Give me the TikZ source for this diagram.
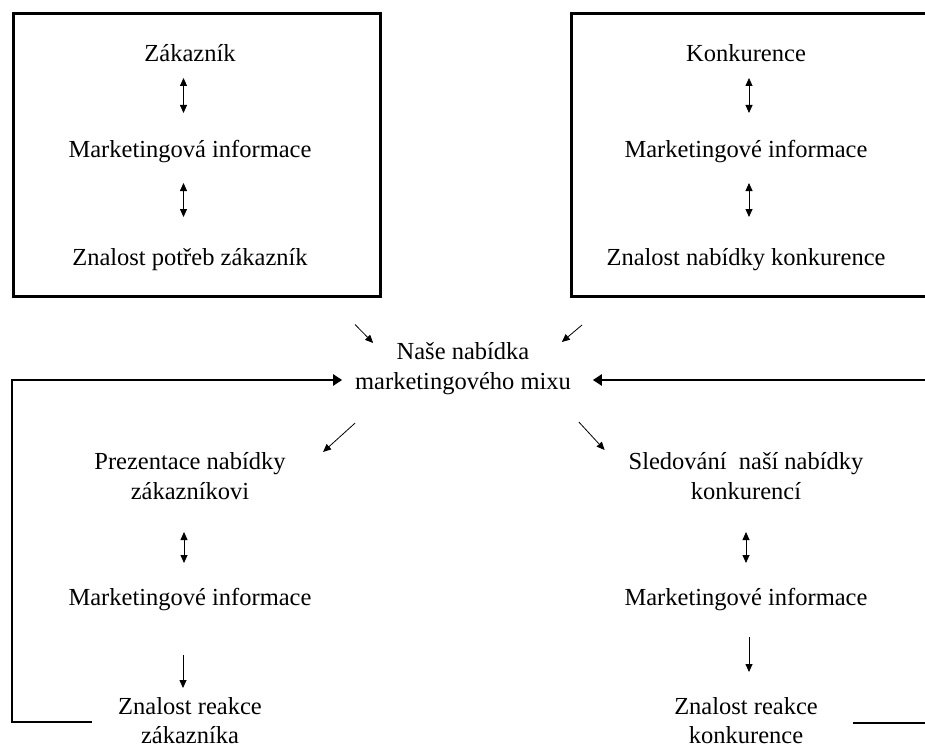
\documentclass[tikz,border=0pt]{standalone}
\usepackage{fontspec}
\setmainfont{Liberation Serif}
\usetikzlibrary{arrows.meta}
% centred block of lines whose baseline is that of the first line
\newcommand\lblstack[1]{\begin{tabular}[t]{@{}c@{}}#1\end{tabular}}
\begin{document}
\begin{tikzpicture}[x=1pt,y=-1pt,
  lbl/.style={inner sep=0pt, outer sep=0pt, anchor=base,
    font=\fontsize{24.5}{30}\selectfont},
  framebox/.style={inner sep=0pt, outer sep=0pt},
  frameline/.style={line width=3pt},
  dbl/.style={line width=0.8pt,
    {Triangle[length=8pt,width=7pt]}-{Triangle[length=8pt,width=7pt]}},
  one/.style={line width=0.8pt, -{Triangle[length=8pt,width=7pt]}},
  fb/.style={line width=1.3pt},
  fbarrow/.style={line width=2.6pt, -{Triangle[length=9pt,width=11pt]}}]
\useasboundingbox (0,0) rectangle (925,749);

% the two information boxes
\node[framebox, draw, frameline, minimum width=367pt, minimum height=283pt] (L) at (196.5,155) {};
\node[framebox, minimum width=355pt, minimum height=283pt] (R) at (748.5,155) {};
\draw[frameline] (R.north east) -- (R.north west) -- (R.south west) -- (R.south east);

% customer side
\node[lbl] (zak) at (190,62)  {\lblstack{Zákazník}};
\node[lbl] (mi1) at (190,157) {\lblstack{Marketingová informace}};
\node[lbl] (zn1) at (190,265) {\lblstack{Znalost potřeb zákazník}};

% competition side
\node[lbl] (kon) at (746,62)  {\lblstack{Konkurence}};
\node[lbl] (mi2) at (746,157) {\lblstack{Marketingové informace}};
\node[lbl] (zn2) at (746,265) {\lblstack{Znalost nabídky konkurence}};

% our offer
\node[lbl] (nase) at (463,359) {\lblstack{Naše nabídka\\marketingového mixu}};

% reaction of the customer
\node[lbl] (pre) at (190,469) {\lblstack{Prezentace nabídky\\zákazníkovi}};
\node[lbl] (mi3) at (190,605) {\lblstack{Marketingové informace}};
\node[lbl] (zr1) at (190,714) {\lblstack{Znalost reakce\\[-1pt]zákazníka}};

% reaction of the competition
\node[lbl] (sle) at (746,469) {\lblstack{Sledování~ naší nabídky\\konkurencí}};
\node[lbl] (mi4) at (746,605) {\lblstack{Marketingové informace}};
\node[lbl] (zr2) at (746,714) {\lblstack{Znalost reakce\\[-1pt]konkurence}};

% arrows inside the boxes
\draw[dbl, shorten <=7pt, shorten >=23pt] ([xshift=-6.5pt]zak.south) -- ([xshift=-6.5pt]mi1.north);
\draw[dbl, shorten <=17pt, shorten >=27pt] ([xshift=-6.5pt]mi1.south) -- ([xshift=-6.5pt]zn1.north);
\draw[dbl, shorten <=7pt, shorten >=23pt] ([xshift=3pt]kon.south) -- ([xshift=3pt]mi2.north);
\draw[dbl, shorten <=17pt, shorten >=27pt] ([xshift=3pt]mi2.south) -- ([xshift=3pt]zn2.north);

% from the boxes to our offer
\draw[one] ([shift={(-25,28)}]L.south east) -- ([shift={(18,5)}]nase.north west);
\draw[one] ([shift={(11,28.5)}]R.south west) -- ([shift={(-9,4)}]nase.north east);

% from our offer downwards
\draw[one] ([shift={(0,25)}]nase.south west) -- ([shift={(37.5,4)}]pre.north east);
\draw[one] ([shift={(8,24)}]nase.south east) -- ([shift={(-24,2)}]sle.north west);

% lower columns
\draw[dbl, shorten <=24pt, shorten >=21pt] ([xshift=-6pt]pre.south) -- ([xshift=-6pt]mi3.north);
\draw[one, shorten <=41pt, shorten >=5pt] ([xshift=-7pt]mi3.south) -- ([xshift=-7pt]zr1.north);
\draw[dbl, shorten <=24pt, shorten >=21pt] (sle.south) -- (mi4.north);
\draw[one, shorten <=23pt, shorten >=21pt] ([xshift=3pt]mi4.south) -- ([xshift=3pt]zr2.north);

% feedback loops
\coordinate (cl)  at (12,380);
\coordinate (cr)  at (925,380);
\coordinate (cbl) at (12,722);
\coordinate (cbr) at (925,723);
\draw[fb, shorten <=26.5pt] (cbl -| zr1.west) -- (cbl) -- ([yshift=-1.3pt]cl);
\draw[fbarrow, shorten >=13pt] ([xshift=-0.65pt]cl) -- (cl -| nase.west);
\draw[fb, shorten <=35pt] (cbr -| zr2.east) -- (cbr);
\draw[fbarrow, shorten >=22pt] (cr) -- (cr -| nase.east);
\end{tikzpicture}
\end{document}
